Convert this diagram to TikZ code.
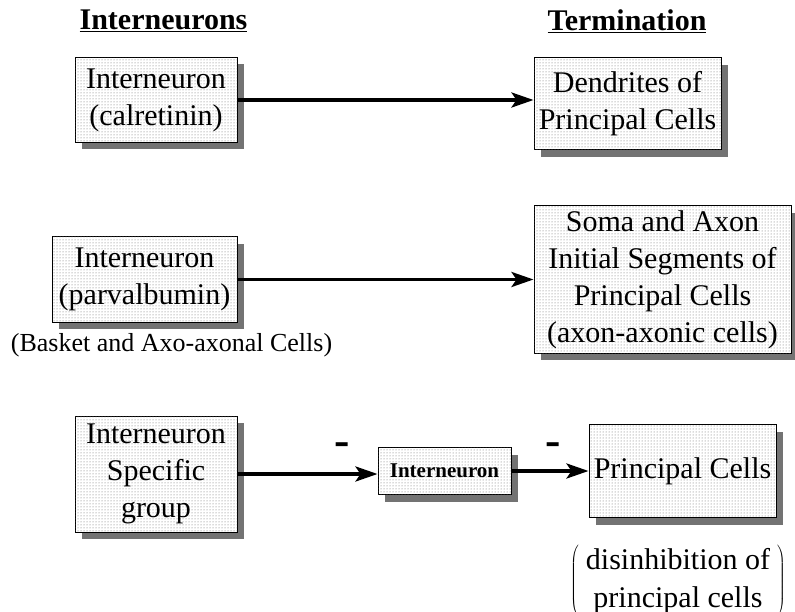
\documentclass[tikz,border=0pt]{standalone}
\usepackage{fontspec}
\setmainfont{Liberation Serif}
\usetikzlibrary{arrows.meta,shadows,patterns}

\begin{document}
\begin{tikzpicture}[x=1pt,y=-1pt,
    cellbox/.style={draw, line width=1pt, fill=white, align=center, inner sep=0pt,
      font=\fontsize{30}{37}\selectfont,
      drop shadow={shadow xshift=7pt, shadow yshift=-7pt, fill=black!55, opacity=1},
      postaction={pattern=dots, pattern color=black!60}},
    arr/.style={line width=3.5pt, -{Stealth[length=22pt,width=15pt,inset=5pt]}},
    heading/.style={font=\fontsize{30}{32}\selectfont\bfseries},
    minus/.style={font=\fontsize{46}{46}\selectfont\bfseries}]
  \useasboundingbox (0,0) rectangle (795,612);
  \node[heading] (hint) at (163.5,21) {\underline{Interneurons}};
  \node[heading] (hterm) at (627,21) {\underline{Termination}};

  \node[cellbox, minimum width=162pt, minimum height=85pt] (calr) at (156,100) {Interneuron\\(calretinin)};
  \node[cellbox, minimum width=187pt, minimum height=92pt] (dend) at (627.5,104) {Dendrites of\\Principal Cells};
  \node[cellbox, minimum width=185pt, minimum height=85pt] (parv) at (144.5,279.5) {Interneuron\\(parvalbumin)};
  \node[cellbox, minimum width=257pt, minimum height=147pt] (soma) at (662.5,279.5) {Soma and Axon\\Initial Segments of\\Principal Cells\\(axon-axonic cells)};
  \node[cellbox, minimum width=162pt, minimum height=116pt] (spec) at (156,474) {Interneuron\\Specific\\group};
  \node[cellbox, minimum width=133pt, minimum height=47pt, font=\fontsize{21}{24}\selectfont\bfseries] (inter) at (444.5,471) {Interneuron};
  \node[cellbox, minimum width=187pt, minimum height=93pt] (princ) at (682.5,471) {Principal Cells};

  \node[font=\fontsize{26}{30}\selectfont] (basket) at (171.5,345) {(Basket and Axo-axonal Cells)};
  \node[font=\fontsize{30}{38}\selectfont, inner sep=0pt] (disinh) at (678,581)
    {$\left(\vcenter{\hbox{\begin{tabular}{@{\hspace{7pt}}c@{\hspace{7pt}}}disinhibition of\\principal cells\end{tabular}}}\right)$};

  \draw[arr] (calr.east) -- (calr.east -| dend.west);
  \draw[arr] (parv.east) -- (parv.east -| soma.west);
  \draw[arr] (spec.east) -- (spec.east -| inter.west);
  \draw[arr] (inter.east) -- (inter.east -| princ.west);
  \node[minus] (m1) at (342,449) {-};
  \node[minus] (m2) at (553,449) {-};
\end{tikzpicture}
\end{document}
